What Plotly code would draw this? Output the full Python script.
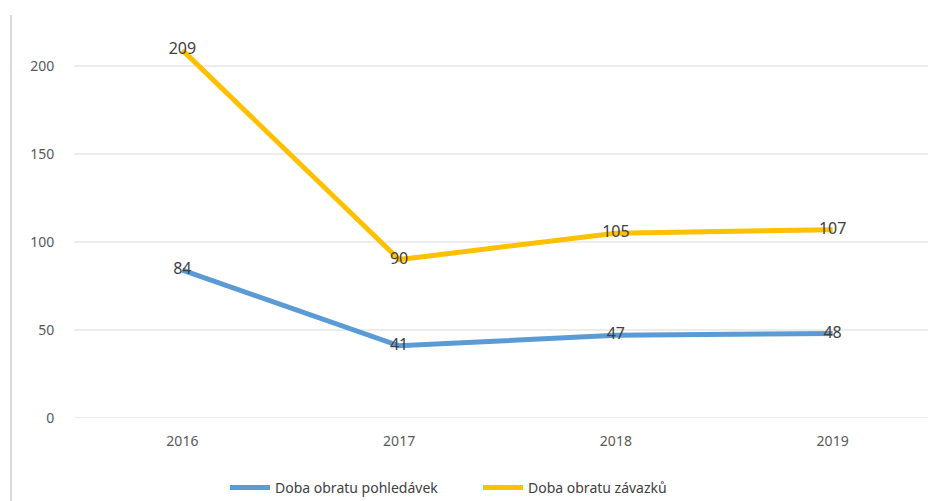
import plotly.graph_objects as go

years = ["2016", "2017", "2018", "2019"]
pohledavky = [84, 41, 47, 48]
zavazky = [209, 90, 105, 107]
names = ["Doba obratu pohledávek", "Doba obratu závazků"]
colors = ["#5b9bd5", "#ffc000"]
y_ticks = [0, 50, 100, 150, 200]

fig = go.Figure()
for vals, name, col in [(pohledavky, names[0], colors[0]), (zavazky, names[1], colors[1])]:
    fig.add_trace(go.Scatter(
        x=list(range(len(years))), y=vals, name=name, mode="lines+text",
        line=dict(color=col, width=5),
        text=[str(v) for v in vals], textposition="middle center",
        textfont=dict(size=16, color="#404040", family="Noto Sans"),
        cliponaxis=False,
    ))

fig.update_layout(
    width=928, height=501,
    margin=dict(l=74, r=0, t=0, b=83, autoexpand=False),
    paper_bgcolor="white", plot_bgcolor="white",
    font=dict(family="Noto Sans", size=14, color="#595959"),
    showlegend=True,
    legend=dict(orientation="h", x=(225 - 74) / 854, xanchor="left", y=-70 / 418, yanchor="middle",
                font=dict(size=14, color="#404040"), itemwidth=40, traceorder="normal",
                entrywidth=198, entrywidthmode="pixels"),
    xaxis=dict(range=[-0.5, 3.44], tickmode="array", tickvals=list(range(len(years))),
               ticktext=years, showgrid=False, zeroline=False, showline=False,
               ticks="outside", ticklen=10, tickcolor="rgba(0,0,0,0)", fixedrange=True),
    yaxis=dict(range=[0, 237.5], tickmode="array", tickvals=y_ticks,
               ticktext=[str(t) for t in y_ticks], showgrid=False, zeroline=False,
               showline=False, ticks="outside", ticklen=16, tickcolor="rgba(0,0,0,0)"),
)
for t in y_ticks:
    fig.add_shape(type="line", xref="paper", yref="y", x0=0, x1=1, y0=t, y1=t,
                  line=dict(color="#d9d9d9", width=1), layer="below")
fig.add_shape(type="line", xref="paper", yref="paper",
              x0=(11 - 74) / 854, x1=(11 - 74) / 854, y0=-83 / 418, y1=(418 - 15) / 418,
              line=dict(color="#d9d9d9", width=2))
fig.write_html("out.html", config={"displayModeBar": False},
               post_script="document.body.style.margin='0';document.body.style.overflow='hidden';document.documentElement.style.overflow='hidden';")
